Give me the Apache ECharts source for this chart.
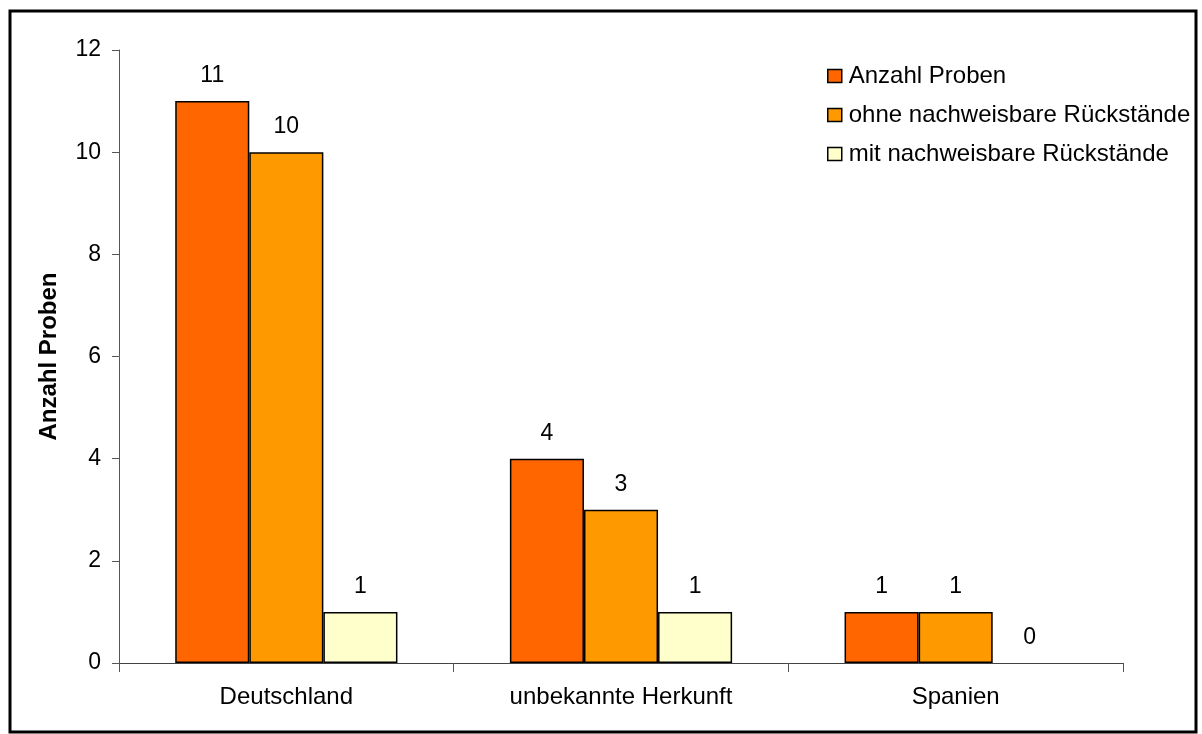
<!DOCTYPE html>
<html>
<head>
<meta charset="utf-8">
<script src="https://cdn.jsdelivr.net/npm/echarts@6/dist/echarts.min.js"></script>
<style>
  html, body { margin: 0; padding: 0; background: #fff; }
  #chart { width: 1202px; height: 734px; }
</style>
</head>
<body>
<div id="chart"></div>
<script>
// Herkunft der Proben
const categories = ['Deutschland', 'unbekannte Herkunft', 'Spanien'];
const anzahlProben = [11, 4, 1];
const ohneRueckstaende = [10, 3, 1];
const mitRueckstaende = [1, 1, 0];
const seriesNames = ['Anzahl Proben', 'ohne nachweisbare Rückstände', 'mit nachweisbare Rückstände'];
const seriesColors = ['#FF6600', '#FF9900', '#FFFFCC'];
const yTicks = [0, 2, 4, 6, 8, 10, 12];

const FONT = 'Liberation Sans, Arial, sans-serif';
const FS = 24;
const chart = echarts.init(document.getElementById('chart'), null, { renderer: 'canvas' });

function barSeries(name, data, color) {
  return {
    name: name,
    type: 'bar',
    data: data.map(v => ({
      value: v,
      // a zero-height bar draws no outline
      itemStyle: v === 0 ? { borderWidth: 0 } : undefined
    })),
    barGap: '0%',
    barCategoryGap: '33.6%',
    itemStyle: { color: color, borderColor: '#000', borderWidth: 1.5 },
    label: {
      show: true,
      position: 'top',
      distance: 14,
      color: '#000',
      fontFamily: FONT,
      fontSize: 23
    },
    emphasis: { disabled: true }
  };
}

chart.setOption({
  animation: false,
  backgroundColor: '#fff',
  grid: { left: 119, right: 79, top: 50, bottom: 71 },
  legend: {
    orient: 'vertical',
    left: 822,
    top: 59,
    itemWidth: 14,
    itemHeight: 13,
    itemGap: 15,
    icon: 'rect',
    itemStyle: { borderColor: '#000', borderWidth: 1.5 },
    textStyle: { fontFamily: FONT, fontSize: FS, color: '#000', padding: [0, 0, 0, 2] },
    data: seriesNames
  },
  xAxis: {
    type: 'category',
    data: categories,
    axisLine: { lineStyle: { color: '#444', width: 1 } },
    axisTick: { show: true, length: 9, alignWithLabel: false, lineStyle: { color: '#555' } },
    axisLabel: { color: '#000', fontFamily: FONT, fontSize: FS, margin: 22 },
    splitLine: { show: false }
  },
  yAxis: {
    type: 'value',
    min: yTicks[0],
    max: yTicks[yTicks.length - 1],
    interval: 2,
    name: 'Anzahl Proben',
    nameLocation: 'middle',
    nameGap: 58,
    nameMoveOverlap: false,
    nameRotate: 90,
    nameTextStyle: { fontFamily: FONT, fontSize: FS, fontWeight: 'bold', color: '#000' },
    axisLine: { show: true, lineStyle: { color: '#555', width: 1 } },
    axisTick: { show: true, length: 7, lineStyle: { color: '#555' } },
    axisLabel: { color: '#000', fontFamily: FONT, fontSize: 23, margin: 18 },
    splitLine: { show: false }
  },
  series: [
    barSeries(seriesNames[0], anzahlProben, seriesColors[0]),
    barSeries(seriesNames[1], ohneRueckstaende, seriesColors[1]),
    barSeries(seriesNames[2], mitRueckstaende, seriesColors[2])
  ],
  graphic: [{
    type: 'rect',
    shape: { x: 10, y: 11, width: 1186, height: 721 },
    style: { fill: 'none', stroke: '#000', lineWidth: 3 },
    silent: true
  }]
});
</script>
</body>
</html>
